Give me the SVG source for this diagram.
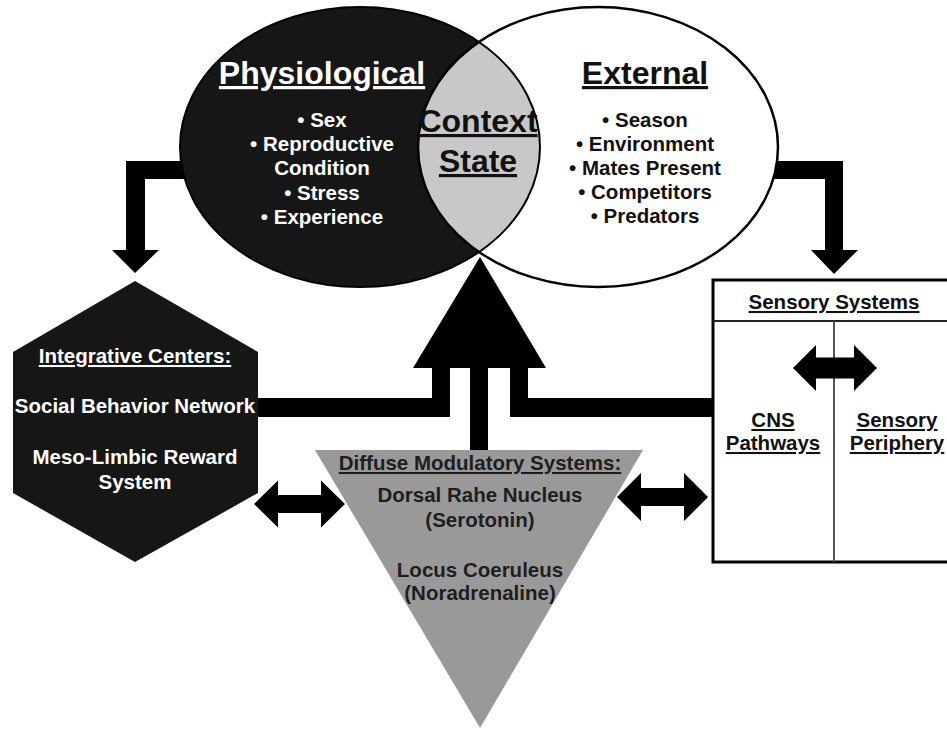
<svg xmlns="http://www.w3.org/2000/svg" width="947" height="729" viewBox="0 0 947 729">
<style>
text{font-family:"Liberation Sans",Arial,sans-serif;font-weight:bold;text-anchor:middle}
.h{font-size:32px}
.b{font-size:20.5px}
.u{text-decoration:underline}
.w{fill:#ffffff}
.k{fill:#111111}
.d{fill:#1e1e1e}
.bar{fill:#000000}
</style>
<defs>
<clipPath id="leftClip"><ellipse cx="360" cy="147" rx="180" ry="140"/></clipPath>
</defs>
<rect width="947" height="729" fill="#ffffff"/>
<g id="connectors">
<path class="bar" d="M192,161 L126,161 L126,250 L112,250 L135,273 L159,250 L145,250 L145,179 L192,179 Z"/>
<path class="bar" d="M770,161 L843,161 L843,250 L858,250 L834,274 L811,250 L825,250 L825,179 L770,179 Z"/>
<polygon class="bar" points="480,257 546,368 413,368"/>
<path class="bar" d="M250,398 L432,398 L432,366 L450,366 L450,417 L250,417 Z"/>
<rect class="bar" x="470" y="366" width="18" height="86"/>
<path class="bar" d="M510,366 L528,366 L528,398 L714,398 L714,417 L510,417 Z"/>
<path class="bar" d="M254,504 L278,480.5 L278,495 L321,495 L321,480.5 L345,504 L321,527.5 L321,513 L278,513 L278,527.5 Z"/>
<path class="bar" d="M617,497 L641,473 L641,488 L684,488 L684,473 L708,497 L684,521 L684,506 L641,506 L641,521 Z"/>
</g>
<g id="context">
<ellipse cx="360" cy="147" rx="180" ry="140" fill="#161616"/>
<ellipse cx="598" cy="147" rx="180" ry="140" fill="#ffffff"/>
<ellipse cx="598" cy="147" rx="180" ry="140" fill="#c8c8c8" clip-path="url(#leftClip)"/>
<ellipse cx="360" cy="147" rx="180" ry="140" fill="none" stroke="#000" stroke-width="2"/>
<ellipse cx="598" cy="147" rx="180" ry="140" fill="none" stroke="#000" stroke-width="2.5"/>
</g>
<g id="physiological">
<text class="h u w" x="322" y="84">Physiological</text>
<text class="b w" x="322" y="127">• Sex</text>
<text class="b w" x="322" y="151">• Reproductive</text>
<text class="b w" x="322" y="175">Condition</text>
<text class="b w" x="322" y="200">• Stress</text>
<text class="b w" x="322" y="224">• Experience</text>
</g>
<g id="context-state">
<text class="h u k" x="478" y="132">Context</text>
<text class="h u k" x="478" y="172">State</text>
</g>
<g id="external">
<text class="h u k" x="645" y="84">External</text>
<text class="b k" x="645" y="127">• Season</text>
<text class="b k" x="645" y="151">• Environment</text>
<text class="b k" x="645" y="175">• Mates Present</text>
<text class="b k" x="645" y="199">• Competitors</text>
<text class="b k" x="645" y="223">• Predators</text>
</g>
<g id="integrative-centers">
<polygon points="135,281 258,352 258,493 135,562 13,493 13,352" fill="#161616"/>
<text class="b u w" x="135" y="363">Integrative Centers:</text>
<text class="b w" x="135" y="413">Social Behavior Network</text>
<text class="b w" x="135" y="464">Meso-Limbic Reward</text>
<text class="b w" x="135" y="489">System</text>
</g>
<g id="diffuse-modulatory">
<polygon points="315,450 643,450 480,728" fill="#999999"/>
<text class="b u d" x="480" y="470">Diffuse Modulatory Systems:</text>
<text class="b d" x="480" y="502">Dorsal Rahe Nucleus</text>
<text class="b d" x="480" y="527">(Serotonin)</text>
<text class="b d" x="480" y="577">Locus Coeruleus</text>
<text class="b d" x="480" y="600">(Noradrenaline)</text>
</g>
<g id="sensory-systems">
<rect x="713" y="280" width="250" height="282" fill="#ffffff" stroke="#000" stroke-width="3"/>
<line x1="713" y1="321" x2="947" y2="321" stroke="#222" stroke-width="2"/>
<line x1="834" y1="321" x2="834" y2="562" stroke="#555" stroke-width="2"/>
<text class="b u k" x="834" y="309">Sensory Systems</text>
<path class="bar" d="M793,368 L816,345 L816,357.5 L854,357.5 L854,345 L877,368 L854,391 L854,378.5 L816,378.5 L816,391 Z"/>
<text class="b u k" x="773" y="427">CNS</text>
<text class="b u k" x="773" y="450">Pathways</text>
<text class="b u k" x="897" y="427">Sensory</text>
<text class="b u k" x="897" y="450">Periphery</text>
</g>
</svg>
